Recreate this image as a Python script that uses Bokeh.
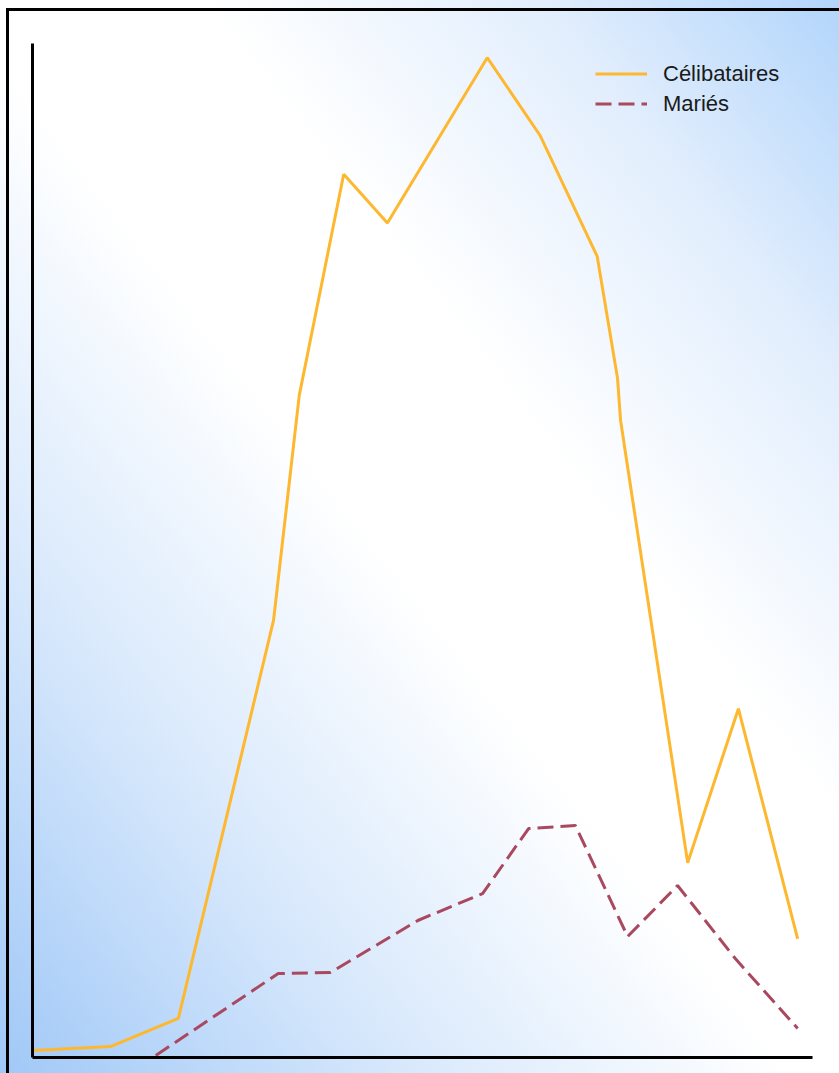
from bokeh.plotting import figure
from bokeh.models import Range1d, Legend, LegendItem, FixedTicker
from bokeh.embed import file_html
from bokeh.resources import INLINE

# Data (arbitrary x/y units)
x_celib = [0.2, 4.9, 10.0, 18.7, 30.9, 34.2, 39.9, 45.5, 58.3, 65.1, 72.4, 75.0, 75.4, 84.0, 90.5, 98.1]
y_celib = [6.9, 8.9, 10.8, 38.5, 431, 653, 871, 823, 986, 909, 790, 670, 628, 192, 344, 117]
x_maries = [15.8, 31.5, 38.2, 49.4, 57.7, 63.6, 69.6, 76.3, 82.7, 90.1, 98.1]
y_maries = [2.0, 82.8, 83.8, 135.1, 161.7, 225.8, 228.8, 119.3, 169.6, 97.6, 28.6]
labels = ["Célibataires", "Mariés"]

p = figure(width=839, height=1073,
           x_range=Range1d(0, 100), y_range=Range1d(0, 1000),
           output_backend="svg", toolbar_location=None,
           min_border_left=32, min_border_right=27,
           min_border_top=43, min_border_bottom=16,
           background_fill_alpha=0, border_fill_alpha=0)
p.styles = {
    "background": (
        "linear-gradient(#000, #000) 6px 8px / 3px calc(100% - 8px) no-repeat, "
        "linear-gradient(#000, #000) 6px 8px / calc(100% - 6px) 3px no-repeat, "
        "linear-gradient(to top right, #a0c8f7 0%, #d9e9fc 25%, #ffffff 47%, "
        "#ffffff 62%, #e2eefd 82%, #b2d5fb 100%)"
    ),
}
p.grid.visible = False
p.outline_line_color = None

for ax in (p.xaxis, p.yaxis):
    ax.ticker = FixedTicker(ticks=[])
    ax.axis_line_width = 3
    ax.axis_line_color = "black"
    ax.major_tick_line_color = None
    ax.minor_tick_line_color = None
    ax.major_label_text_font_size = "0px"
    ax.major_tick_out = 0
    ax.major_tick_in = 0
    ax.minor_tick_out = 0
    ax.major_label_standoff = 0

r1 = p.line(x_celib, y_celib, line_color="#FDB82F", line_width=3)
r2 = p.line(x_maries, y_maries, line_color="#A9485F", line_width=3, line_dash="16 7")

legend = Legend(items=[LegendItem(label=labels[0], renderers=[r1]),
                       LegendItem(label=labels[1], renderers=[r2])],
                location="top_right", margin=17, padding=0,
                glyph_width=52, glyph_height=27, label_height=27,
                label_width=132, label_standoff=16, spacing=3,
                label_text_font="Liberation Sans", label_text_font_size="22px",
                label_text_color="#1a1a1a",
                background_fill_alpha=0, border_line_color=None)
p.add_layout(legend)

open("out.html", "w").write(file_html(p, INLINE))
